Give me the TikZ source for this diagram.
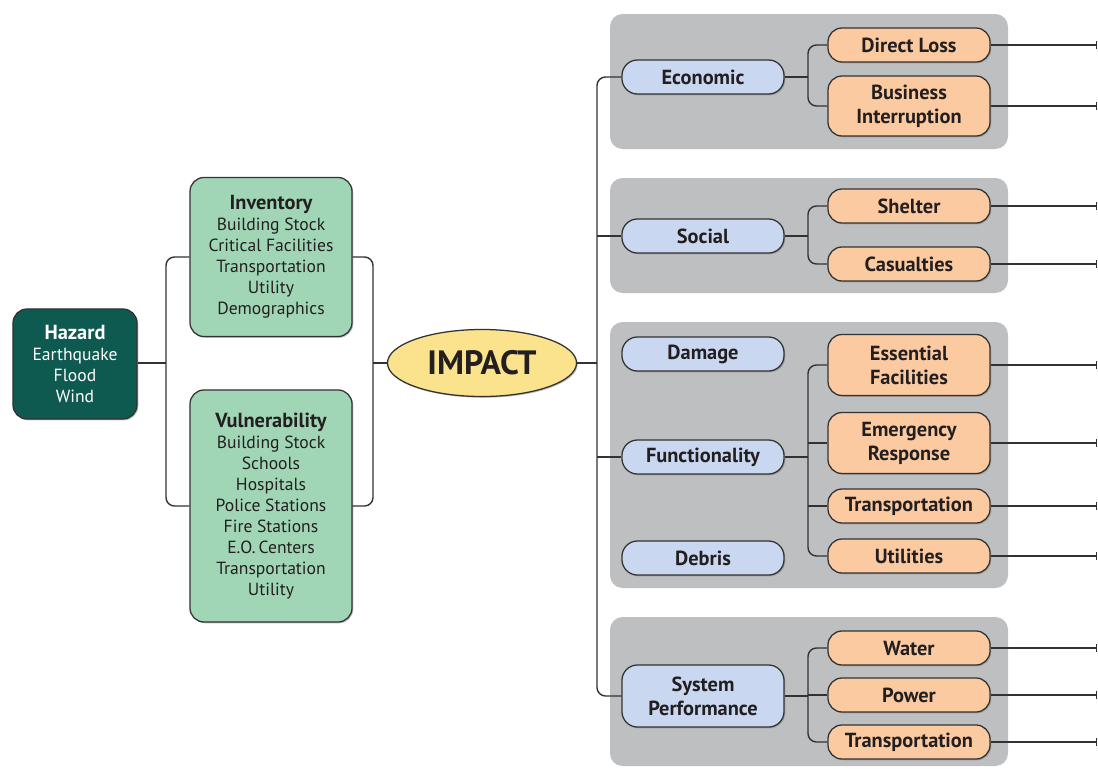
\documentclass[tikz,border=0pt]{standalone}
\usepackage{fontspec}
\setmainfont{PT Sans}
\usetikzlibrary{shapes.geometric,shadows,arrows.meta}
\definecolor{hazteal}{RGB}{14,90,80}
\definecolor{invgreen}{RGB}{160,214,182}
\definecolor{impyellow}{RGB}{250,227,140}
\definecolor{catblue}{RGB}{201,216,240}
\definecolor{outorange}{RGB}{252,202,160}
\definecolor{panelgray}{RGB}{190,191,193}
\definecolor{edgegray}{RGB}{50,50,50}
\definecolor{ink}{RGB}{35,31,32}
\newcommand\headfont{\fontsize{14.5}{17}\selectfont\bfseries}
\newcommand\listfont{\fontsize{12.5}{14.9}\selectfont}

\begin{document}
\begin{tikzpicture}[x=0.025cm,y=-0.025cm,
    box/.style={draw=edgegray,line width=0.9pt,align=center,inner sep=0pt,text=ink,
      drop shadow={shadow xshift=0.9pt,shadow yshift=-0.9pt,opacity=.5}},
    hazbox/.style={box,fill=hazteal,text=white,rounded corners=10pt,font=\listfont,
      minimum width=3.1cm,minimum height=2.75cm},
    listbox/.style={box,fill=invgreen,rounded corners=10pt,minimum width=4.05cm,font=\listfont},
    impact/.style={box,ellipse,fill=impyellow,minimum width=4.725cm,minimum height=1.675cm,
      font=\fontsize{24}{28}\selectfont\bfseries},
    catbox/.style={box,fill=catblue,rounded corners=11pt,minimum width=4.05cm,font=\headfont},
    outbox/.style={box,fill=outorange,rounded corners=10pt,minimum width=4.05cm,font=\headfont},
    link/.style={draw=edgegray,line width=1pt,rounded corners=6pt},
    outlink/.style={link,-{Bar[width=5pt,line width=1pt]}}]
  \useasboundingbox (0,0) rectangle (1098,769);

  \foreach \ya/\yb in {14/149,178/293,322/588,617/766}{%
    \fill[panelgray,rounded corners=9pt] (610,\ya) rectangle (1008,\yb);
  }

  \node[hazbox] (haz) at (75,364) {{\headfont Hazard}\\Earthquake\\Flood\\Wind};
  \node[listbox,minimum height=3.975cm] (inv) at (271,257)
    {{\headfont Inventory}\\Building Stock\\Critical Facilities\\Transportation\\Utility\\Demographics};
  \node[listbox,minimum height=5.8cm] (vul) at (271,506)
    {{\headfont Vulnerability}\\Building Stock\\Schools\\Hospitals\\Police Stations\\Fire Stations\\E.O.\,Centers\\Transportation\\Utility};
  \node[impact] (imp) at (482,363) {IMPACT};

  \foreach \n/\y/\h/\t in {econ/77/0.85/Economic, soc/236/0.85/Social, dam/354/0.85/Damage,
      func/457/0.85/Functionality, deb/558/0.85/Debris, sysp/696/1.55/{System\\Performance}}{%
    \node[catbox,minimum height=\h cm] (\n) at (703,\y) {\t};
  }

  \foreach \n/\y/\h/\t in {dl/45/0.85/Direct Loss, bi/106/1.5/{Business\\Interruption},
      shel/206/0.85/Shelter, cas/264/0.85/Casualties,
      ef/365/1.525/{Essential\\Facilities}, er/443/1.525/{Emergency\\Response},
      ftr/506/0.85/Transportation, util/556/0.85/Utilities,
      wat/648/0.85/Water, pow/695/0.85/Power, str/742/0.85/Transportation}{%
    \node[outbox,minimum height=\h cm] (\n) at (909,\y) {\t};
    \coordinate (\n-end) at (1097,\y);
    \draw[outlink] (\n.east) -- (\n-end);
  }

  \coordinate (lb) at (166,363);
  \coordinate (rb) at (373,363);
  \coordinate (tr) at (597,363);
  \draw[link] (inv.west) -| (lb) |- (vul.west);
  \draw[link] (haz.east |- lb) -- (lb);
  \draw[link] (inv.east) -| (rb) |- (vul.east);
  \draw[link] (rb) -- (imp.west);
  \draw[link] (econ.west) -| (tr) |- (sysp.west);
  \draw[link] (imp.east) -- (tr);
  \foreach \n in {soc,func}{%
    \draw[link] (tr |- \n.west) -- (\n.west);
  }

  \foreach \c/\a/\b in {econ/dl/bi, soc/shel/cas, func/ef/util, sysp/wat/str}{%
    \coordinate (\c-j) at (808,0 |- \c.east);
    \draw[link] (\a.west) -| (\c-j) |- (\b.west);
    \draw[link] (\c.east) -- (\c-j);
  }
  \foreach \c/\k in {func/er, func/ftr, sysp/pow}{%
    \draw[link] (\c-j |- \k.west) -- (\k.west);
  }
\end{tikzpicture}
\end{document}
